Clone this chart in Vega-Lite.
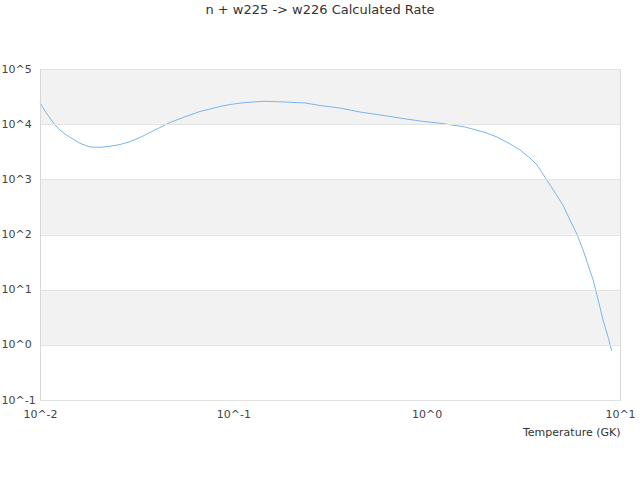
{
  "$schema": "https://vega.github.io/schema/vega-lite/v6.json",
  "autosize": "none",
  "width": 580,
  "height": 331,
  "padding": {"left": 40, "top": 69, "right": 20, "bottom": 80},
  "background": "white",
  "title": {
    "text": "n + w225 -> w226 Calculated Rate",
    "anchor": "middle",
    "frame": "group",
    "dx": -10,
    "offset": 46,
    "fontSize": 13,
    "fontWeight": "normal",
    "font": "DejaVu Sans",
    "color": "#333333"
  },
  "layer": [
    {
      "data": {
        "values": [
          {"lo": 10000, "hi": 100000},
          {"lo": 100, "hi": 1000},
          {"lo": 1, "hi": 10}
        ]
      },
      "mark": {"type": "rect", "color": "#f2f2f2"},
      "encoding": {
        "y": {
          "field": "lo",
          "type": "quantitative",
          "title": null,
          "scale": {"type": "log", "domain": [0.1, 100000], "nice": false},
          "axis": {
            "values": [0.1, 1, 10, 100, 1000, 10000, 100000],
            "labelExpr": "'10^' + round(log(datum.value) / LN10)",
            "grid": true,
            "gridColor": "#e2e2e2",
            "ticks": false,
            "tickSize": 0,
            "labelAlign": "left",
            "labelBaseline": "middle",
            "labelPadding": 39,
            "labelFlush": false,
            "domainColor": "#d8d8d8",
            "zindex": 1
          }
        },
        "y2": {"field": "hi"}
      }
    },
    {
      "data": {
        "values": [
          {"T": 0.01, "rate": 24700},
          {"T": 0.01061, "rate": 17300},
          {"T": 0.01127, "rate": 12800},
          {"T": 0.01197, "rate": 9660},
          {"T": 0.01269, "rate": 7840},
          {"T": 0.01346, "rate": 6640},
          {"T": 0.01429, "rate": 5780},
          {"T": 0.0161, "rate": 4500},
          {"T": 0.01815, "rate": 3860},
          {"T": 0.02043, "rate": 3810},
          {"T": 0.023, "rate": 3970},
          {"T": 0.02594, "rate": 4280},
          {"T": 0.02922, "rate": 4810},
          {"T": 0.03289, "rate": 5730},
          {"T": 0.03707, "rate": 7060},
          {"T": 0.04178, "rate": 8710},
          {"T": 0.047, "rate": 10700},
          {"T": 0.053, "rate": 12600},
          {"T": 0.0597, "rate": 14700},
          {"T": 0.0673, "rate": 17000},
          {"T": 0.0757, "rate": 18800},
          {"T": 0.0853, "rate": 20900},
          {"T": 0.0961, "rate": 22700},
          {"T": 0.1149, "rate": 24700},
          {"T": 0.1459, "rate": 26000},
          {"T": 0.185, "rate": 25200},
          {"T": 0.2349, "rate": 24200},
          {"T": 0.2807, "rate": 21800},
          {"T": 0.3565, "rate": 19600},
          {"T": 0.4519, "rate": 16600},
          {"T": 0.5741, "rate": 14700},
          {"T": 0.7278, "rate": 12900},
          {"T": 0.9247, "rate": 11400},
          {"T": 1.172, "rate": 10400},
          {"T": 1.578, "rate": 8900},
          {"T": 2.004, "rate": 7070},
          {"T": 2.311, "rate": 5850},
          {"T": 2.698, "rate": 4380},
          {"T": 3.041, "rate": 3400},
          {"T": 3.422, "rate": 2440},
          {"T": 3.724, "rate": 1820},
          {"T": 4.18, "rate": 973},
          {"T": 4.61, "rate": 577},
          {"T": 5.07, "rate": 340},
          {"T": 5.51, "rate": 183},
          {"T": 6.0, "rate": 100},
          {"T": 6.44, "rate": 52.4},
          {"T": 6.84, "rate": 28},
          {"T": 7.26, "rate": 15.0},
          {"T": 7.71, "rate": 6.5},
          {"T": 8.17, "rate": 2.82},
          {"T": 8.62, "rate": 1.5},
          {"T": 9.06, "rate": 0.78}
        ]
      },
      "mark": {"type": "line", "color": "#7cb5ec", "strokeWidth": 1},
      "encoding": {
        "x": {
          "field": "T",
          "type": "quantitative",
          "title": "Temperature (GK)",
          "scale": {"type": "log", "domain": [0.01, 10], "nice": false},
          "axis": {
            "values": [0.01, 0.1, 1, 10],
            "labelExpr": "'10^' + round(log(datum.value) / LN10)",
            "grid": false,
            "ticks": false,
            "tickSize": 0,
            "labelPadding": 8,
            "labelFlush": false,
            "domainColor": "#d8d8d8",
            "titleAnchor": "end",
            "titleAlign": "right",
            "titlePadding": 7,
            "titleFontWeight": "normal",
            "titleFontSize": 11,
            "titleColor": "#333333"
          }
        },
        "y": {
          "field": "rate",
          "type": "quantitative",
          "title": null
        }
      }
    }
  ],
  "config": {
    "font": "DejaVu Sans",
    "view": {"stroke": "#d8d8d8"},
    "axis": {
      "labelFont": "DejaVu Sans",
      "labelFontSize": 11,
      "labelColor": "#444444",
      "titleFont": "DejaVu Sans"
    }
  }
}
